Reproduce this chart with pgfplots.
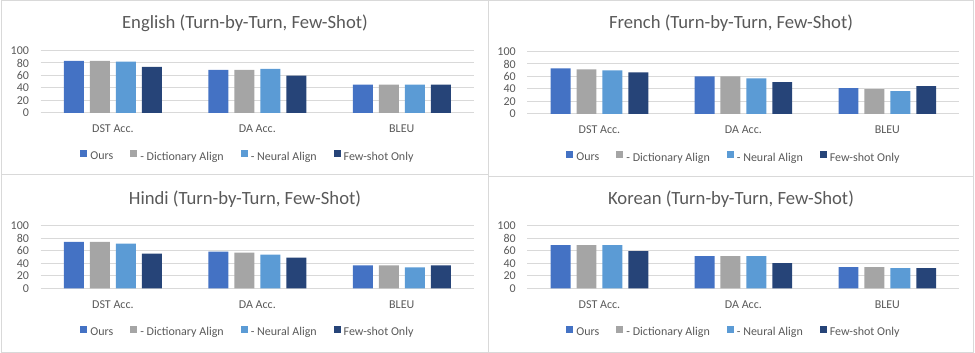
\documentclass[border=0pt]{standalone}
\usepackage{fontspec}
\setmainfont{Carlito}
\usepackage{pgfplots}
\pgfplotsset{compat=1.18}
\definecolor{cOurs}{HTML}{4472C4}
\definecolor{cDict}{HTML}{A5A5A5}
\definecolor{cNeur}{HTML}{5B9BD5}
\definecolor{cFew}{HTML}{264478}
\definecolor{gridc}{HTML}{D9D9D9}
\definecolor{txt}{HTML}{595959}
\pgfplotsset{
 panel/.style={
  scale only axis, width=325pt, height=46.9pt, anchor=south west,
  ymin=0, ymax=100, ytick={0,20,...,100}, xmin=-0.5, xmax=2.5,
  xtick={0,1,2}, xticklabels={DST Acc., DA Acc., BLEU},
  axis line style={draw=none}, major tick length=0pt, tick style={draw=none},
  ymajorgrids, grid style={gridc, line width=0.75pt},
  tick label style={font=\fontsize{9}{11}\selectfont, text=txt},
  /pgf/number format/assume math mode=true,
  yticklabel style={anchor=east, inner sep=0pt, xshift=-8.6pt},
  xticklabel style={anchor=base, inner sep=0pt, yshift=-14.8pt},
  ybar, bar width=0.1385,
  legend columns=4,
  legend style={draw=none, fill=none, font=\fontsize{9}{11}\selectfont, text=txt,
    at={(0.476,-0.69)}, anchor=center, nodes={inner sep=0pt},
    /tikz/every odd column/.append style={column sep=2.25pt},
    /tikz/every even column/.append style={column sep=12.75pt}},
  legend image code/.code={\fill[##1] (0pt,-0.2pt) rectangle (5.25pt,5.05pt);},
 },
 pOurs/.style={fill=cOurs, draw=none, bar shift=-0.27},
 pDict/.style={fill=cDict, draw=none, bar shift=-0.09},
 pNeur/.style={fill=cNeur, draw=none, bar shift=0.09},
 pFew/.style={fill=cFew, draw=none, bar shift=0.27},
}
\begin{document}
\begin{tikzpicture}
\path[use as bounding box] (0,0) rectangle (731.25pt,264.75pt);
\begin{scope}[draw=gridc, line width=0.75pt]
\draw (1.1pt,264.4pt) rectangle (366pt,133.5pt);
\draw (366pt,264.4pt) rectangle (730.1pt,132pt);
\draw (1.1pt,133.5pt) rectangle (366pt,0.4pt);
\draw (366pt,132pt) rectangle (730.1pt,0.4pt);
\end{scope}
\begin{scope}[every node/.style={font=\fontsize{14}{17}\selectfont, text=txt, anchor=base, inner sep=0pt}]
\node at (183.75pt,243pt) {English (Turn-by-Turn, Few-Shot)};
\node at (548.25pt,243pt) {French (Turn-by-Turn, Few-Shot)};
\node at (183.75pt,111pt) {Hindi (Turn-by-Turn, Few-Shot)};
\node at (548.25pt,111pt) {Korean (Turn-by-Turn, Few-Shot)};
\end{scope}
% English
\begin{axis}[panel, at={(30.5pt,180pt)}]
\addplot[pOurs] coordinates {(0,83.5) (1,69.1) (2,45.2)};
\addplot[pDict] coordinates {(0,83.5) (1,69.1) (2,45.2)};
\addplot[pNeur] coordinates {(0,82.0) (1,70.7) (2,45.2)};
\addplot[pFew] coordinates {(0,73.9) (1,59.6) (2,45.2)};
\legend{Ours, - Dictionary Align, - Neural Align, Few-shot Only}
\end{axis}
% French
\begin{axis}[panel, at={(395.6pt,179.25pt)}, width=323.9pt]
\addplot[pOurs] coordinates {(0,72.8) (1,60.2) (2,41.4)};
\addplot[pDict] coordinates {(0,71.2) (1,60.2) (2,39.8)};
\addplot[pNeur] coordinates {(0,69.6) (1,57.1) (2,36.6)};
\addplot[pFew] coordinates {(0,66.5) (1,50.8) (2,44.5)};
\legend{Ours, - Dictionary Align, - Neural Align, Few-shot Only}
\end{axis}
% Hindi
\begin{axis}[panel, at={(30.5pt,48.4pt)}]
\addplot[pOurs] coordinates {(0,74.7) (1,58.9) (2,36.8)};
\addplot[pDict] coordinates {(0,74.7) (1,57.4) (2,36.8)};
\addplot[pNeur] coordinates {(0,71.6) (1,54.2) (2,33.7)};
\addplot[pFew] coordinates {(0,55.8) (1,49.5) (2,36.8)};
\legend{Ours, - Dictionary Align, - Neural Align, Few-shot Only}
\end{axis}
% Korean
\begin{axis}[panel, at={(395.6pt,48.5pt)}, width=323.9pt]
\addplot[pOurs] coordinates {(0,69.1) (1,51.6) (2,34.0)};
\addplot[pDict] coordinates {(0,69.1) (1,51.6) (2,34.0)};
\addplot[pNeur] coordinates {(0,69.1) (1,51.6) (2,32.4)};
\addplot[pFew] coordinates {(0,59.6) (1,40.4) (2,32.4)};
\legend{Ours, - Dictionary Align, - Neural Align, Few-shot Only}
\end{axis}
\end{tikzpicture}
\end{document}
